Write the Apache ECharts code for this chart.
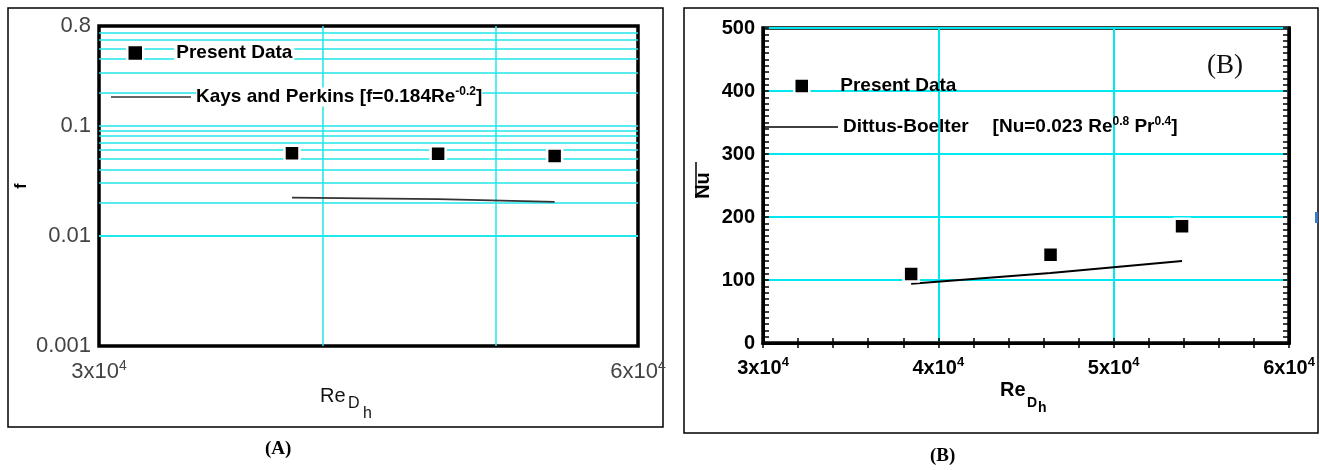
<!DOCTYPE html>
<html>
<head>
<meta charset="utf-8">
<title>Friction factor and Nusselt number vs Reynolds number</title>
<script src="https://cdn.jsdelivr.net/npm/echarts@6/dist/echarts.min.js"></script>
<style>
  html, body { margin: 0; padding: 0; background: #fff; }
  #chart { width: 1320px; height: 470px; }
</style>
</head>
<body>
<div id="chart"></div>
<script>
// Reynolds numbers (based on hydraulic diameter) of the three test runs
const reynolds = [38450, 46400, 53900];

// Panel (A): friction factor
const frictionPresent = [0.056, 0.0555, 0.053];
const frictionKaysPerkins = [0.0222, 0.0215, 0.0203];

// Panel (B): average Nusselt number
const nusseltPresent = [109.5, 140, 185.5];
const nusseltDittusBoelter = [94, 111, 130];

// Axis ranges / tick values
const reRange = [30000, 60000];
const fRange = [0.001, 0.8];
const fDecades = [0.001, 0.01, 0.1];
const reGridA = [40000, 50000];
const nuRange = [0, 500];

const SANS = '"Liberation Sans", Arial, sans-serif';
const SERIF = '"Liberation Serif", "Times New Roman", serif';
const CYAN_A = '#22e6ea';
const CYAN_B = '#00e8ef';

// Horizontal log grid lines of panel (A): 2..9 x each decade (and the decades)
const fGridValues = [];
fDecades.forEach(function (d) {
  for (let k = 1; k <= 9; k++) {
    const v = +(k * d).toPrecision(3);
    if (v > fRange[0] && v < fRange[1] - 0.01) fGridValues.push(v);
  }
});

function zip(xs, ys) { return xs.map(function (x, i) { return [x, ys[i]]; }); }

function reLabel(v) {
  return '{n|' + Math.round(v / 10000) + 'x10}{s|4}';
}

const chart = echarts.init(document.getElementById('chart'), null, { renderer: 'canvas' });

// legend text styles; panel (A) labels sit on a white box that interrupts the grid
function legendText(whiteBox) {
  const bg = whiteBox ? '#fff' : 'transparent';
  return {
    fontFamily: SANS, fontSize: 19, fontWeight: 'bold', color: '#000', lineHeight: 22,
    rich: {
      g: { width: 26 },
      gb: { width: 24 },
      t: { fontFamily: SANS, fontSize: 19, fontWeight: 'bold', color: '#000', lineHeight: 22, backgroundColor: bg, padding: [0, 2] },
      ts: { fontFamily: SANS, fontSize: 19, fontWeight: 'bold', color: '#000', lineHeight: 22, backgroundColor: bg },
      s: { fontFamily: SANS, fontSize: 12, fontWeight: 'bold', color: '#000', verticalAlign: 'top', lineHeight: 10, backgroundColor: bg }
    }
  };
}

const markerStyle = { color: '#000', opacity: 1, borderColor: '#fff', borderWidth: 2.5 };

const option = {
  animation: false,
  backgroundColor: '#fff',
  grid: [
    { left: 99, top: 26, width: 539, height: 320, show: true, borderColor: '#000', borderWidth: 3.5, backgroundColor: 'transparent' },
    { left: 763, top: 28, width: 526, height: 315, show: true, borderColor: '#000', borderWidth: 3.5, backgroundColor: 'transparent' }
  ],
  legend: [
    { left: 126, top: 42, padding: 0, selectedMode: false, icon: 'rect', itemWidth: 16, itemHeight: 16,
      itemStyle: markerStyle, data: ['Present Data'], textStyle: legendText(true),
      formatter: function (n) { return '{g| }{t|' + n + '}'; } },
    { left: 111, top: 86, padding: 0, selectedMode: false, icon: 'rect', itemWidth: 80, itemHeight: 1.5,
      data: ['Kays and Perkins'], textStyle: legendText(true),
      formatter: function (n) { return '{ts|' + n + ' [f=0.184Re}{s|-0.2}{ts|]}'; } },
    { left: 793, top: 75, padding: 0, selectedMode: false, icon: 'rect', itemWidth: 15, itemHeight: 15,
      itemStyle: markerStyle, data: ['Present Data '], textStyle: legendText(false),
      formatter: function () { return '{g| }Present Data'; } },
    { left: 762, top: 116, padding: 0, selectedMode: false, icon: 'rect', itemWidth: 76, itemHeight: 1.5,
      data: ['Dittus-Boelter'], textStyle: legendText(false),
      formatter: function (n) { return n + '{gb| }[Nu=0.023 Re{s|0.8} Pr{s|0.4}]'; } }
  ],
  xAxis: [
    { // (A) Reynolds number, log scale
      type: 'log', gridIndex: 0, min: reRange[0], max: reRange[1],
      axisLine: { show: false }, axisTick: { show: false }, splitLine: { show: false },
      axisLabel: {
        show: true, showMinLabel: true, showMaxLabel: true, margin: 13, formatter: reLabel,
        rich: {
          n: { fontFamily: SANS, fontSize: 22, color: '#444', lineHeight: 26 },
          s: { fontFamily: SANS, fontSize: 14, color: '#444', verticalAlign: 'top', lineHeight: 12 }
        }
      }
    },
    { // (B) Reynolds number, linear
      type: 'value', gridIndex: 1, min: reRange[0], max: reRange[1], interval: 10000,
      axisLine: { show: true, lineStyle: { color: '#000', width: 3 } },
      axisTick: { show: true, inside: true, length: 5, lineStyle: { color: '#000', width: 1.5 } },
      minorTick: { show: true, splitNumber: 5, length: 5, lineStyle: { color: '#000', width: 1.5 } },
      splitLine: { show: true, lineStyle: { color: CYAN_B, width: 2 } },
      axisLabel: {
        margin: 13, formatter: reLabel,
        rich: {
          n: { fontFamily: SANS, fontSize: 20, fontWeight: 'bold', color: '#000', lineHeight: 24 },
          s: { fontFamily: SANS, fontSize: 13, fontWeight: 'bold', color: '#000', verticalAlign: 'top', lineHeight: 11 }
        }
      }
    },
    { // (B) mirrored top axis, ticks only
      type: 'value', gridIndex: 1, position: 'top', min: reRange[0], max: reRange[1], interval: 10000,
      axisLine: { show: true, lineStyle: { color: '#000', width: 3 } },
      axisTick: { show: true, inside: true, length: 5, lineStyle: { color: '#000', width: 1.5 } },
      minorTick: { show: true, splitNumber: 5, length: 5, lineStyle: { color: '#000', width: 1.5 } },
      splitLine: { show: false }, axisLabel: { show: false }
    }
  ],
  yAxis: [
    { // (A) friction factor, log scale
      type: 'log', gridIndex: 0, min: fRange[0], max: fRange[1],
      axisLine: { show: false }, axisTick: { show: false }, splitLine: { show: false },
      name: 'f', nameLocation: 'middle', nameRotate: 90, nameGap: 69,
      nameTextStyle: { fontFamily: SANS, fontSize: 16, fontWeight: 'bold', color: '#000' },
      axisLabel: {
        showMinLabel: true, showMaxLabel: true, margin: 8,
        fontFamily: SANS, fontSize: 22, color: '#444',
        formatter: function (v) { return String(+(+v).toPrecision(2)); }
      }
    },
    { // (B) average Nusselt number
      type: 'value', gridIndex: 1, min: nuRange[0], max: nuRange[1], interval: 100,
      axisLine: { show: true, lineStyle: { color: '#000', width: 3 } },
      axisTick: { show: true, inside: true, length: 6, lineStyle: { color: '#000', width: 1.5 } },
      minorTick: { show: true, splitNumber: 10, length: 6, lineStyle: { color: '#000', width: 1.5 } },
      splitLine: { show: true, lineStyle: { color: CYAN_B, width: 2 } },
      name: 'Nu', nameLocation: 'middle', nameRotate: 90, nameGap: 50,
      nameTextStyle: { fontFamily: SANS, fontSize: 20, fontWeight: 'bold', color: '#000' },
      axisLabel: { margin: 8, fontFamily: SANS, fontSize: 20, fontWeight: 'bold', color: '#000' }
    },
    { // (B) mirrored right axis, ticks only
      type: 'value', gridIndex: 1, position: 'right', min: nuRange[0], max: nuRange[1], interval: 100,
      axisLine: { show: true, lineStyle: { color: '#000', width: 3 } },
      axisTick: { show: true, inside: true, length: 6, lineStyle: { color: '#000', width: 1.5 } },
      minorTick: { show: true, splitNumber: 10, length: 6, lineStyle: { color: '#000', width: 1.5 } },
      splitLine: { show: false }, axisLabel: { show: false }
    }
  ],
  series: [
    { // log grid of panel (A)
      name: 'grid-a', type: 'line', xAxisIndex: 0, yAxisIndex: 0, data: [], z: 1, silent: true,
      markLine: {
        z: 1, silent: true, symbol: ['none', 'none'], label: { show: false }, animation: false,
        lineStyle: { color: CYAN_A, width: 1.5, type: 'solid' },
        emphasis: { disabled: true },
        data: fGridValues.map(function (v) { return { yAxis: v }; })
          .concat(reGridA.map(function (v) { return { xAxis: v }; }))
      }
    },
    {
      name: 'Kays and Perkins', type: 'line', xAxisIndex: 0, yAxisIndex: 0, z: 3,
      data: zip(reynolds, frictionKaysPerkins), showSymbol: false, symbol: 'none',
      lineStyle: { color: '#333', width: 1.7 }, itemStyle: { color: '#333' }
    },
    {
      name: 'Present Data', type: 'scatter', xAxisIndex: 0, yAxisIndex: 0, z: 4,
      data: zip(reynolds, frictionPresent), symbol: 'rect', symbolSize: 15,
      itemStyle: markerStyle
    },
    {
      name: 'Dittus-Boelter', type: 'line', xAxisIndex: 1, yAxisIndex: 1, z: 3,
      data: zip(reynolds, nusseltDittusBoelter), showSymbol: false, symbol: 'none',
      lineStyle: { color: '#000', width: 2 }, itemStyle: { color: '#000' }
    },
    {
      name: 'Present Data ', type: 'scatter', xAxisIndex: 1, yAxisIndex: 1, z: 4,
      data: zip(reynolds, nusseltPresent), symbol: 'rect', symbolSize: 15,
      itemStyle: markerStyle
    }
  ],
  graphic: [
    // panel frames
    { type: 'rect', shape: { x: 8, y: 8, width: 655, height: 419 }, style: { fill: 'none', stroke: '#000', lineWidth: 1.5 }, silent: true },
    { type: 'rect', shape: { x: 684, y: 8, width: 634, height: 425 }, style: { fill: 'none', stroke: '#000', lineWidth: 1.5 }, silent: true },
    // x-axis title of (A): Re with subscript D_h
    { type: 'text', left: 320, top: 386, style: { text: 'Re', font: '20px ' + SANS, fill: '#111' }, silent: true },
    { type: 'text', left: 348, top: 396, style: { text: 'D', font: '16px ' + SANS, fill: '#111' }, silent: true },
    { type: 'text', left: 363, top: 406, style: { text: 'h', font: '16px ' + SANS, fill: '#111' }, silent: true },
    // x-axis title of (B)
    { type: 'text', left: 1000, top: 380, style: { text: 'Re', font: 'bold 20px ' + SANS, fill: '#000' }, silent: true },
    { type: 'text', left: 1027, top: 396, style: { text: 'D', font: 'bold 14px ' + SANS, fill: '#000' }, silent: true },
    { type: 'text', left: 1038, top: 401, style: { text: 'h', font: 'bold 14px ' + SANS, fill: '#000' }, silent: true },
    // overbar of the average Nusselt number symbol
    { type: 'line', shape: { x1: 696, y1: 162, x2: 696, y2: 198 }, style: { stroke: '#000', lineWidth: 1.5 }, silent: true },
    // panel tags
    { type: 'text', left: 1207, top: 52, style: { text: '(B)', font: '27px ' + SERIF, fill: '#111' }, silent: true },
    { type: 'text', left: 265, top: 440, style: { text: '(A)', font: 'bold 19px ' + SERIF, fill: '#000' }, silent: true },
    { type: 'text', left: 930, top: 447, style: { text: '(B)', font: 'bold 19px ' + SERIF, fill: '#000' }, silent: true },
    // small blue mark on the right frame
    { type: 'rect', shape: { x: 1315, y: 212, width: 3, height: 11 }, style: { fill: '#3a78c8' }, silent: true }
  ]
};

chart.setOption(option);
</script>
</body>
</html>
